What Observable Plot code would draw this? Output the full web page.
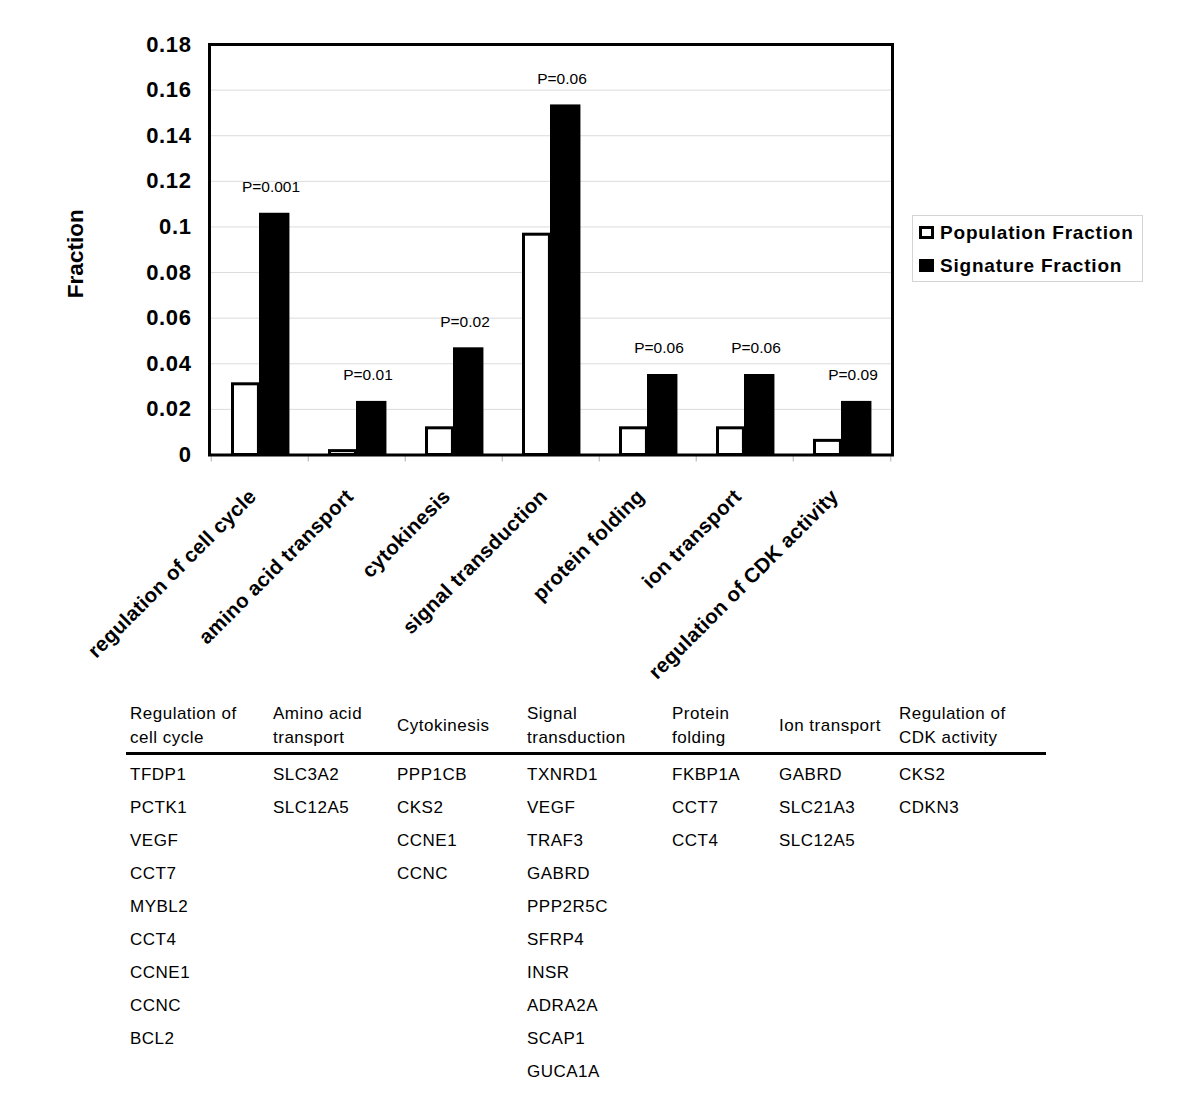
<!DOCTYPE html>
<html><head><meta charset="utf-8">
<script src="https://cdn.jsdelivr.net/npm/d3@7"></script>
<script src="https://cdn.jsdelivr.net/npm/@observablehq/plot@0.6"></script>
<style>
body{margin:0;background:#fff;font-family:"Liberation Sans",Arial,sans-serif;}
#wrap{position:relative;width:1200px;height:1120px;overflow:hidden;}
#chart{position:absolute;left:0;top:0;}
#legend{position:absolute;left:912px;top:215px;width:231px;height:67px;border:1px solid #d4d4d4;box-sizing:border-box;}
.lg{position:absolute;left:0;height:33px;display:flex;align-items:center;font-weight:bold;font-size:19px;letter-spacing:0.8px;color:#000;}
.sw{width:15px;height:13px;box-sizing:border-box;border:3px solid #000;margin-left:6px;margin-right:6px;}
g[aria-label="y-axis tick label"] text{letter-spacing:0.6px;}
g[aria-label="x-axis tick label"] text{letter-spacing:0.3px;}
.col{position:absolute;top:702px;font-size:17px;letter-spacing:0.5px;color:#000;}
.hd{height:48px;display:flex;align-items:center;line-height:24px;white-space:nowrap;}
.gn{line-height:33px;margin-top:7.5px;}
#rule{position:absolute;left:126px;width:920px;top:752px;height:3px;background:#000;}
</style></head>
<body><div id="wrap"><div id="chart"></div><div id="legend"></div><div id="rule"></div></div>
<script>
const categories = ["regulation of cell cycle","amino acid transport","cytokinesis","signal transduction","protein folding","ion transport","regulation of CDK activity"];
const populationFraction = [0.031,0.0017,0.0117,0.0966,0.0117,0.0117,0.0062];
const signatureFraction = [0.106,0.0235,0.047,0.1535,0.0353,0.0353,0.0235];
const pLabels = ["P=0.001","P=0.01","P=0.02","P=0.06","P=0.06","P=0.06","P=0.09"];
const yTicks = [0,0.02,0.04,0.06,0.08,0.1,0.12,0.14,0.16,0.18];
const seriesNames = ["Population Fraction","Signature Fraction"];
const tableHeaders = [["Regulation of","cell cycle"],["Amino acid","transport"],["Cytokinesis"],["Signal","transduction"],["Protein","folding"],["Ion transport"],["Regulation of","CDK activity"]];
const geneLists = [
  ["TFDP1","PCTK1","VEGF","CCT7","MYBL2","CCT4","CCNE1","CCNC","BCL2"],
  ["SLC3A2","SLC12A5"],
  ["PPP1CB","CKS2","CCNE1","CCNC"],
  ["TXNRD1","VEGF","TRAF3","GABRD","PPP2R5C","SFRP4","INSR","ADRA2A","SCAP1","GUCA1A"],
  ["FKBP1A","CCT7","CCT4"],
  ["GABRD","SLC21A3","SLC12A5"],
  ["CKS2","CDKN3"]
];
const colX = [130,273,397,527,672,779,899];

const rows = categories.map((c,i)=>({category:c, pop:populationFraction[i], sig:signatureFraction[i], p:pLabels[i]}));

const W=1200, H=700, mL=209, mR=308, mT=44, mB=H-454.5;
const bw=(W-mL-mR)/categories.length;
const font='"Liberation Sans",Arial,sans-serif';
const fmt = d => d===0 ? "0" : String(+d.toFixed(2));

const chart = Plot.plot({
  width:W, height:H, marginLeft:mL, marginRight:mR, marginTop:mT, marginBottom:mB,
  style:{fontFamily:font, background:"transparent", color:"#000", overflow:"visible"},
  x:{domain:categories, padding:0, axis:null},
  y:{domain:[0,0.18], axis:null},
  marks:[
    Plot.gridY(yTicks,{stroke:"#dcdcdc", strokeOpacity:1, strokeWidth:1}),
    Plot.barY(rows,{x:"category", y:"pop", fill:"white", stroke:"black", strokeWidth:3, insetLeft:21.5, insetRight:bw-48}),
    Plot.barY(rows,{x:"category", y:"sig", fill:"black", insetLeft:48, insetRight:bw-79}),
    Plot.text(rows,{x:"category", y:"sig", text:"p", dx:11, dy:-21, lineAnchor:"bottom", fontSize:15.5, fill:"black"}),
    Plot.axisX({ticks:categories, tickSize:7, tickFormat:()=>"", dx:-bw/2, stroke:"#b0b0b0", label:null}),
    Plot.axisX({ticks:categories.slice(-1), tickSize:7, tickFormat:()=>"", dx:bw/2, stroke:"#b0b0b0", label:null}),
    Plot.axisX({ticks:categories, tickSize:0, tickPadding:38, tickRotate:-45, dx:-7, fontSize:20.5, fontWeight:"bold", label:null}),
    Plot.axisY({ticks:yTicks, tickSize:0, tickPadding:18, fontSize:22, fontWeight:"bold", tickFormat:fmt, label:null}),
    Plot.text(["Fraction"],{frameAnchor:"left", text:d=>d, rotate:-90, textAnchor:"middle", dx:-134, dy:4, fontSize:22.5, fontWeight:"bold"}),
    Plot.frame({stroke:"black", strokeWidth:3})
  ]
});
document.getElementById("chart").appendChild(chart);

const legend = document.getElementById("legend");
seriesNames.forEach((n,i)=>{
  const r=document.createElement("div"); r.className="lg"; r.style.top=(i*33)+"px";
  const s=document.createElement("div"); s.className="sw"; s.style.background = i===0?"#fff":"#000";
  r.appendChild(s); r.appendChild(document.createTextNode(n)); legend.appendChild(r);
});

const wrap=document.getElementById("wrap");
tableHeaders.forEach((h,i)=>{
  const c=document.createElement("div"); c.className="col"; c.style.left=colX[i]+"px";
  const hd=document.createElement("div"); hd.className="hd"; hd.innerHTML=h.join("<br>");
  const gn=document.createElement("div"); gn.className="gn"; gn.innerHTML=geneLists[i].join("<br>");
  c.appendChild(hd); c.appendChild(gn); wrap.appendChild(c);
});
</script></body></html>
